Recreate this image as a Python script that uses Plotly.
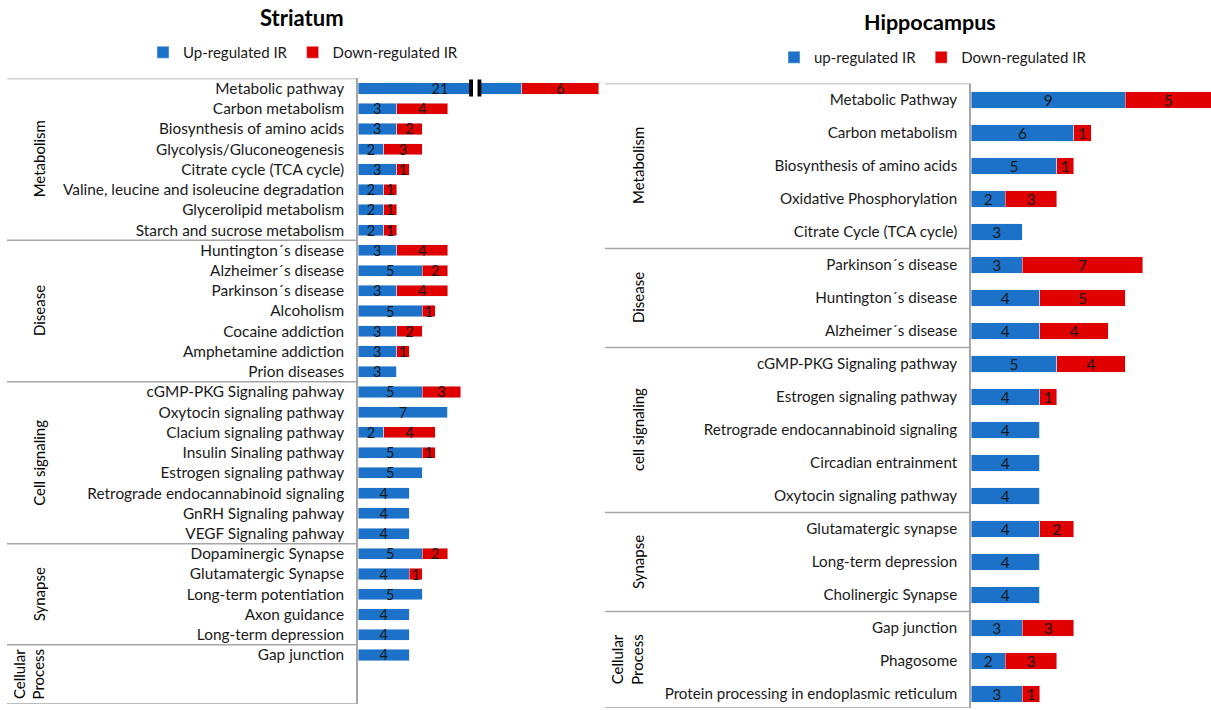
import plotly.graph_objects as go

# ---------------- Data ----------------
# Striatum
st_pathways = [
    "Metabolic pathway", "Carbon metabolism", "Biosynthesis of amino acids",
    "Glycolysis/Gluconeogenesis", "Citrate cycle (TCA cycle)",
    "Valine, leucine and isoleucine degradation", "Glycerolipid metabolism",
    "Starch and sucrose metabolism",
    "Huntington´s disease", "Alzheimer´s disease", "Parkinson´s disease",
    "Alcoholism", "Cocaine addiction", "Amphetamine addiction", "Prion diseases",
    "cGMP-PKG Signaling pahway", "Oxytocin signaling pathway",
    "Clacium signaling pathway", "Insulin Sinaling pathway",
    "Estrogen signaling pathway", "Retrograde endocannabinoid signaling",
    "GnRH Signaling pahway", "VEGF Signaling pahway",
    "Dopaminergic Synapse", "Glutamatergic Synapse", "Long-term potentiation",
    "Axon guidance", "Long-term depression",
    "Gap junction",
]
st_groups = (["Metabolism"] * 8 + ["Disease"] * 7 + ["Cell signaling"] * 8
             + ["Synapse"] * 5 + ["Cellular Process"] * 1)
st_up = [21, 3, 3, 2, 3, 2, 2, 2,
         3, 5, 3, 5, 3, 3, 3,
         5, 7, 2, 5, 5, 4, 4, 4,
         5, 4, 5, 4, 4,
         4]
st_down = [6, 4, 2, 3, 1, 1, 1, 1,
           4, 2, 4, 1, 2, 1, 0,
           3, 0, 4, 1, 0, 0, 0, 0,
           2, 1, 0, 0, 0,
           0]

# Hippocampus
hc_pathways = [
    "Metabolic Pathway", "Carbon metabolism", "Biosynthesis of amino acids",
    "Oxidative Phosphorylation", "Citrate Cycle (TCA cycle)",
    "Parkinson´s disease", "Huntington´s disease", "Alzheimer´s disease",
    "cGMP-PKG Signaling pathway", "Estrogen signaling pathway",
    "Retrograde endocannabinoid signaling", "Circadian entrainment",
    "Oxytocin signaling pathway",
    "Glutamatergic synapse", "Long-term depression", "Cholinergic Synapse",
    "Gap junction", "Phagosome", "Protein processing in endoplasmic reticulum",
]
hc_groups = (["Metabolism"] * 5 + ["Disease"] * 3 + ["cell signaling"] * 5
             + ["Synapse"] * 3 + ["Cellular Process"] * 3)
hc_up = [9, 6, 5, 2, 3, 3, 4, 4, 5, 4, 4, 4, 4, 4, 4, 4, 3, 2, 3]
hc_down = [5, 1, 1, 3, 0, 7, 5, 4, 4, 1, 0, 0, 0, 2, 0, 0, 3, 3, 1]

group_display = {"Cellular Process": "Cellular<br>Process"}

# ---------------- Style / layout constants ----------------
W, H = 1211, 710
BLUE = "#1B72C8"
RED = "#E00000"
TXT = "#1a1a1a"
LINE = "#a6a6a6"
FONT = "Lato"

# axis break for the Striatum (values above BREAK_AT are shortened by BREAK_SIZE)
BREAK_AT = 9.15
BREAK_SIZE = 8.25

# panel pixel geometry
L_X0, L_X1, L_PPU = 358, 605, 12.85     # px, px, px per unit
L_TOP, L_BOT, L_ROW = 78.4, 704, 20.23
R_X0, R_X1, R_PPU = 971, 1211, 17.15
R_TOP, R_BOT, R_ROW = 83.5, 708, 33.0
L_LINE_X0, R_LINE_X0 = 7, 605


def px(xp):
    return xp / W


def py(yp):
    return 1 - yp / H


def shown(v):
    return v - BREAK_SIZE if v > BREAK_AT else v


def lab(v):
    return str(v) if v else ""


fig = go.Figure()

st_y = list(range(len(st_pathways)))
hc_y = list(range(len(hc_pathways)))

bar_common = dict(orientation="h", textposition="inside",
                  insidetextanchor="middle", constraintext="none",
                  textangle=0, hoverinfo="skip")

fig.add_trace(go.Bar(y=st_y, x=[shown(v) for v in st_up], name="Up-regulated IR",
                     marker_color=BLUE, width=0.55, text=[lab(v) for v in st_up],
                     textfont=dict(family=FONT, size=14.5, color=TXT),
                     xaxis="x", yaxis="y", legend="legend", **bar_common))
fig.add_trace(go.Bar(y=st_y, x=st_down, name="Down-regulated IR",
                     marker_color=RED, width=0.55, text=[lab(v) for v in st_down],
                     textfont=dict(family=FONT, size=14.5, color=TXT),
                     xaxis="x", yaxis="y", legend="legend", **bar_common))
fig.add_trace(go.Bar(y=hc_y, x=hc_up, name="up-regulated IR",
                     marker_color=BLUE, width=0.5, text=[lab(v) for v in hc_up],
                     textfont=dict(family=FONT, size=15.5, color=TXT),
                     xaxis="x2", yaxis="y2", legend="legend2", **bar_common))
fig.add_trace(go.Bar(y=hc_y, x=hc_down, name="Down-regulated IR",
                     marker_color=RED, width=0.5, text=[lab(v) for v in hc_down],
                     textfont=dict(family=FONT, size=15.5, color=TXT),
                     xaxis="x2", yaxis="y2", legend="legend2", **bar_common))

l_yend = -0.5 + (L_BOT - L_TOP) / L_ROW
r_yend = -0.5 + (R_BOT - R_TOP) / R_ROW

xcommon = dict(showgrid=False, zeroline=False, showticklabels=False,
               showline=False, fixedrange=True)
ycommon = dict(showgrid=False, zeroline=False, tickmode="array", ticks="",
               showline=True, linecolor=LINE, linewidth=1.5,
               ticklabelstandoff=9, fixedrange=True)

fig.update_layout(
    width=W, height=H,
    margin=dict(l=0, r=0, t=0, b=0),
    paper_bgcolor="white", plot_bgcolor="white",
    barmode="stack",
    font=dict(family=FONT, color=TXT),
    xaxis=dict(domain=[px(L_X0), px(L_X1)], range=[0, (L_X1 - L_X0) / L_PPU],
               anchor="y", **xcommon),
    yaxis=dict(domain=[py(L_BOT), py(L_TOP)], range=[l_yend, -0.5],
               anchor="x", tickvals=st_y, ticktext=st_pathways,
               tickfont=dict(family=FONT, size=15.4, color=TXT), **ycommon),
    xaxis2=dict(domain=[px(R_X0), px(R_X1)], range=[0, (R_X1 - R_X0) / R_PPU],
                anchor="y2", **xcommon),
    yaxis2=dict(domain=[py(R_BOT), py(R_TOP)], range=[r_yend, -0.5],
                anchor="x2", tickvals=hc_y, ticktext=hc_pathways,
                tickfont=dict(family=FONT, size=15.2, color=TXT), **ycommon),
    legend=dict(orientation="h", x=px(303), xanchor="center", y=py(36),
                yanchor="top", font=dict(family=FONT, size=15, color=TXT),
                bgcolor="rgba(0,0,0,0)", traceorder="normal"),
    legend2=dict(orientation="h", x=px(933), xanchor="center", y=py(41),
                 yanchor="top", font=dict(family=FONT, size=15, color=TXT),
                 bgcolor="rgba(0,0,0,0)", traceorder="normal"),
)

shapes = []
annotations = [
    dict(text="<b>Striatum</b>", x=px(302), y=py(18), xref="paper", yref="paper",
         showarrow=False, font=dict(family=FONT, size=22, color="black"),
         xanchor="center", yanchor="middle"),
    dict(text="<b>Hippocampus</b>", x=px(930), y=py(22), xref="paper", yref="paper",
         showarrow=False, font=dict(family=FONT, size=21.5, color="black"),
         xanchor="center", yanchor="middle"),
]


def group_spans(groups, yend):
    spans = []
    start = 0
    for i in range(1, len(groups) + 1):
        if i == len(groups) or groups[i] != groups[start]:
            spans.append((groups[start], start - 0.5, i - 0.5))
            start = i
    # last group extends to the bottom of the axis
    g, a, b = spans[-1]
    spans[-1] = (g, a, yend)
    return spans


def add_panel(groups, yend, yref, line_x0, line_x1, label_x, label_x2):
    spans = group_spans(groups, yend)
    edges = [spans[0][1]] + [s[2] for s in spans]
    for e in edges:
        shapes.append(dict(type="line", xref="paper", yref=yref,
                           x0=px(line_x0), x1=px(line_x1), y0=e, y1=e,
                           line=dict(color=LINE, width=1.5)))
    for g, a, b in spans:
        txt = group_display.get(g, g)
        two = "<br>" in txt
        annotations.append(dict(
            text=txt, xref="paper", yref=yref,
            x=px(label_x2 if two else label_x), y=(a + b) / 2,
            showarrow=False, textangle=-90, xanchor="center", yanchor="middle",
            font=dict(family=FONT, size=15, color="black")))


add_panel(st_groups, l_yend, "y", L_LINE_X0, L_X0, 39, 29)
add_panel(hc_groups, r_yend, "y2", R_LINE_X0, R_X0, 638, 627)

# axis break marker on the Striatum top bar
bi = [i for i, v in enumerate(st_up) if v > BREAK_AT]
for i in bi:
    shapes.append(dict(type="rect", xref="x", yref="y", x0=BREAK_AT - 0.2,
                       x1=BREAK_AT + 0.2, y0=i - 0.4, y1=i + 0.4,
                       fillcolor="white", line=dict(width=0)))
    for c in (BREAK_AT - 0.35, BREAK_AT + 0.3):
        shapes.append(dict(type="rect", xref="x", yref="y", x0=c - 0.15,
                           x1=c + 0.15, y0=i - 0.45, y1=i + 0.4,
                           fillcolor="black", line=dict(width=0)))

fig.update_layout(shapes=shapes, annotations=annotations)

fig.write_html("out.html", config={"displayModeBar": False},
               post_script="document.body.style.margin='0';")
